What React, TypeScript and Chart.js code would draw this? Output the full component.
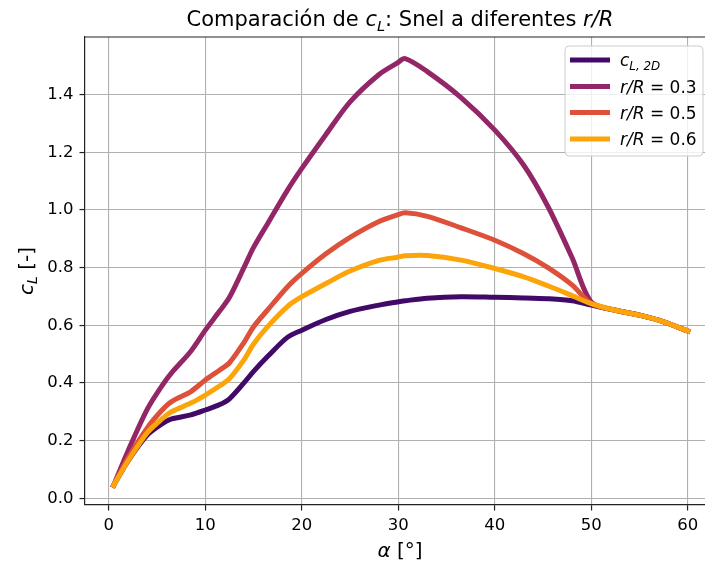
import React, { useEffect, useRef } from "react";
import { Chart, registerables } from "chart.js";

Chart.register(...registerables);

// ---- data ----
const alpha = [0.5, 2, 4, 5.5, 6.5, 8.5, 10, 11.5, 12.5, 14, 15, 16.5, 18.5, 20, 22.5, 25, 28, 29.9, 30.7, 33, 36.5, 40, 43, 45.5, 48, 50, 52.5, 55, 57.5, 60];
const cl2D = [0.045, 0.13, 0.22, 0.258, 0.275, 0.289, 0.306, 0.325, 0.345, 0.4, 0.44, 0.493, 0.558, 0.583, 0.62, 0.648, 0.67, 0.681, 0.685, 0.694, 0.699, 0.697, 0.695, 0.692, 0.685, 0.67, 0.652, 0.635, 0.612, 0.58];
const clR03 = [0.045, 0.165, 0.31, 0.39, 0.435, 0.51, 0.583, 0.65, 0.697, 0.8, 0.87, 0.955, 1.068, 1.144, 1.262, 1.375, 1.47, 1.51, 1.525, 1.48, 1.39, 1.277, 1.155, 1.012, 0.835, 0.68, 0.652, 0.635, 0.612, 0.58];
const clR05 = [0.045, 0.14, 0.245, 0.305, 0.335, 0.37, 0.41, 0.445, 0.47, 0.54, 0.595, 0.655, 0.733, 0.78, 0.848, 0.905, 0.96, 0.983, 0.99, 0.978, 0.938, 0.895, 0.848, 0.8, 0.74, 0.675, 0.652, 0.635, 0.612, 0.58];
const clR06 = [0.045, 0.13, 0.228, 0.275, 0.3, 0.33, 0.358, 0.39, 0.415, 0.48, 0.535, 0.597, 0.665, 0.699, 0.745, 0.788, 0.825, 0.836, 0.841, 0.842, 0.826, 0.797, 0.768, 0.737, 0.703, 0.675, 0.652, 0.635, 0.612, 0.58];
const xTicks = [0, 10, 20, 30, 40, 50, 60];
const yTicks = [0, 0.2, 0.4, 0.6, 0.8, 1.0, 1.2, 1.4];
const seriesNames = ["c_L,2D", "r/R = 0.3", "r/R = 0.5", "r/R = 0.6"];
const seriesColors = ["#420a68", "#932667", "#dd513a", "#fca50a"];

type Seg = { t: string; it?: boolean; sub?: boolean };
const FAMILY = '"DejaVu Sans", sans-serif';

const titleSegs: Seg[] = [
  { t: "Comparación de " },
  { t: "c", it: true },
  { t: "L", it: true, sub: true },
  { t: ": Snel a diferentes " },
  { t: "r/R", it: true },
];
const xLabelSegs: Seg[] = [{ t: "α", it: true }, { t: " [°]" }];
const yLabelSegs: Seg[] = [{ t: "c", it: true }, { t: "L", it: true, sub: true }, { t: " [-]" }];
const legendSegs: Seg[][] = [
  [{ t: "c", it: true }, { t: "L, 2D", it: true, sub: true }],
  [{ t: "r/R", it: true }, { t: " = 0.3" }],
  [{ t: "r/R", it: true }, { t: " = 0.5" }],
  [{ t: "r/R", it: true }, { t: " = 0.6" }],
];

function fontFor(s: Seg, size: number) {
  const sz = s.sub ? size * 0.7 : size;
  return `${s.it ? "italic " : ""}${sz}px ${FAMILY}`;
}

function measureRich(ctx: CanvasRenderingContext2D, segs: Seg[], size: number) {
  let w = 0;
  for (const s of segs) {
    ctx.font = fontFor(s, size);
    w += ctx.measureText(s.t).width;
  }
  return w;
}

function drawRich(ctx: CanvasRenderingContext2D, segs: Seg[], x: number, y: number, size: number, align: "left" | "center") {
  const total = measureRich(ctx, segs, size);
  let cx = align === "center" ? x - total / 2 : x;
  ctx.textAlign = "left";
  ctx.textBaseline = "alphabetic";
  for (const s of segs) {
    ctx.font = fontFor(s, size);
    ctx.fillText(s.t, cx, s.sub ? y + size * 0.22 : y);
    cx += ctx.measureText(s.t).width;
  }
}

const decorPlugin = {
  id: "decor",
  afterDraw(chart: any) {
    const ctx: CanvasRenderingContext2D = chart.ctx;
    const a = chart.chartArea;
    ctx.save();
    // top spine
    ctx.strokeStyle = "#222";
    ctx.lineWidth = 1.2;
    ctx.beginPath();
    ctx.moveTo(a.left, a.top);
    ctx.lineTo(a.right, a.top);
    ctx.stroke();

    ctx.fillStyle = "#000";
    // title
    drawRich(ctx, titleSegs, 400, 26, 21, "center");
    // x label
    drawRich(ctx, xLabelSegs, 400, 557, 20, "center");
    // y label (rotated)
    ctx.save();
    ctx.translate(33, 271);
    ctx.rotate(-Math.PI / 2);
    drawRich(ctx, yLabelSegs, 0, 0, 20, "center");
    ctx.restore();

    // legend
    const bx = 565, by = 46, bw = 138, bh = 110, r = 4;
    ctx.beginPath();
    ctx.moveTo(bx + r, by);
    ctx.arcTo(bx + bw, by, bx + bw, by + bh, r);
    ctx.arcTo(bx + bw, by + bh, bx, by + bh, r);
    ctx.arcTo(bx, by + bh, bx, by, r);
    ctx.arcTo(bx, by, bx + bw, by, r);
    ctx.closePath();
    ctx.fillStyle = "rgba(255,255,255,0.8)";
    ctx.fill();
    ctx.strokeStyle = "#cccccc";
    ctx.lineWidth = 1;
    ctx.stroke();

    const rowsY = [60, 86.5, 112.5, 139];
    for (let i = 0; i < seriesNames.length; i++) {
      const ly = rowsY[i];
      ctx.strokeStyle = seriesColors[i];
      ctx.lineWidth = 5;
      ctx.lineCap = "butt";
      ctx.beginPath();
      ctx.moveTo(570, ly);
      ctx.lineTo(610, ly);
      ctx.stroke();
      ctx.fillStyle = "#000";
      drawRich(ctx, legendSegs[i], 620, ly + 6.3, 17, "left");
    }
    ctx.restore();
  },
};

export default function App() {
  const ref = useRef<HTMLCanvasElement | null>(null);

  useEffect(() => {
    if (!ref.current) return;
    const series = [cl2D, clR03, clR05, clR06];
    const chart = new Chart(ref.current, {
      type: "line",
      data: {
        datasets: series.map((vals, i) => ({
          label: seriesNames[i],
          data: alpha.map((x, j) => ({ x, y: vals[j] })),
          borderColor: seriesColors[i],
          backgroundColor: seriesColors[i],
          borderWidth: 5,
          pointRadius: 0,
          fill: false,
          tension: 0.3,
          borderCapStyle: "square" as const,
          borderJoinStyle: "round" as const,
          order: series.length - i,
        })),
      },
      options: {
        animation: false,
        responsive: false,
        devicePixelRatio: 1,
        layout: { padding: { top: 37, left: 0, right: 0, bottom: 0 } },
        plugins: { legend: { display: false }, title: { display: false }, tooltip: { enabled: false } },
        scales: {
          x: {
            type: "linear",
            min: -2.47,
            max: 61.78,
            afterBuildTicks: (s: any) => {
              s.ticks = xTicks.map((v) => ({ value: v }));
            },
            afterFit: (s: any) => {
              s.height = 58;
            },
            ticks: {
              font: { family: FAMILY, size: 16.5 },
              color: "#000",
              padding: 5,
              maxRotation: 0,
              autoSkip: false,
              callback: (v: any) => String(v),
            },
            grid: { color: "#b0b0b0", lineWidth: 1.1, tickColor: "#222", tickLength: 5.5, tickWidth: 1.2, drawTicks: true },
            border: { display: true, color: "#222", width: 1.2 },
          },
          y: {
            type: "linear",
            min: -0.0235,
            max: 1.6,
            afterBuildTicks: (s: any) => {
              s.ticks = yTicks.map((v) => ({ value: v }));
            },
            afterFit: (s: any) => {
              s.width = 85;
            },
            ticks: {
              font: { family: FAMILY, size: 16.5 },
              color: "#000",
              padding: 6,
              autoSkip: false,
              callback: (v: any) => Number(v).toFixed(1),
            },
            grid: { color: "#b0b0b0", lineWidth: 1.1, tickColor: "#222", tickLength: 5.5, tickWidth: 1.2, drawTicks: true },
            border: { display: true, color: "#222", width: 1.2 },
          },
        },
      },
      plugins: [decorPlugin],
    });
    return () => chart.destroy();
  }, []);

  return (
    <div style={{ position: "fixed", left: 0, top: 0, width: 705, height: 563, background: "#fff" }}>
      <canvas ref={ref} width={705} height={563} style={{ display: "block", width: 705, height: 563 }} />
    </div>
  );
}
